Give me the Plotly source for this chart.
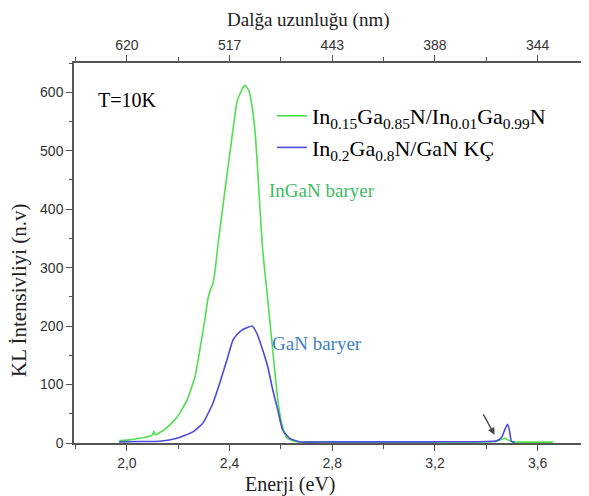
import plotly.graph_objects as go

# ---- data ----
energy_ingan = [1.97, 2.00, 2.05, 2.09, 2.10, 2.105, 2.11, 2.15, 2.195, 2.234, 2.265, 2.284,
                2.304, 2.315, 2.325, 2.335, 2.345, 2.355, 2.382, 2.413, 2.43, 2.452, 2.459,
                2.475, 2.49, 2.502, 2.514, 2.529, 2.549, 2.568, 2.588, 2.603, 2.623, 2.66,
                2.70, 2.80, 3.00, 3.20, 3.40, 3.44, 3.46, 3.471, 3.485, 3.50, 3.52, 3.60, 3.66]
intensity_ingan = [4, 5, 8, 12, 14, 20, 14, 24, 44, 73, 113, 159,
                   212, 245, 262, 272, 300, 340, 432, 535, 586, 608, 612,
                   603, 569, 518, 432, 330, 244, 159, 73, 34, 8.5, 2,
                   2, 2, 2, 2, 2, 3, 6, 8, 5, 2, 1.5, 1.5, 1.5]

energy_gan = [1.97, 2.05, 2.129, 2.195, 2.257, 2.296, 2.335, 2.362, 2.393, 2.413, 2.43,
              2.448, 2.467, 2.487, 2.506, 2.529, 2.549, 2.568, 2.588, 2.607, 2.634, 2.673,
              2.80, 3.00, 3.20, 3.40, 3.44, 3.46, 3.475, 3.483, 3.49, 3.498, 3.51]
intensity_gan = [2, 2.5, 3, 8, 19, 34, 68, 103, 147, 176, 186,
                 193, 197, 200, 188, 159, 130, 91, 56, 22, 8, 2,
                 2, 2, 2, 2.5, 4, 10, 26, 32, 22, 3, 1]

energy_ticks = [2.0, 2.4, 2.8, 3.2, 3.6]
energy_ticklabels = ["2,0", "2,4", "2,8", "3,2", "3,6"]
wavelength_ticklabels = ["620", "517", "443", "388", "344"]
intensity_ticks = [0, 100, 200, 300, 400, 500, 600]

name_ingan = "In<sub>0.15</sub>Ga<sub>0.85</sub>N/In<sub>0.01</sub>Ga<sub>0.99</sub>N"
name_gan = "In<sub>0.2</sub>Ga<sub>0.8</sub>N/GaN KÇ"

GREEN = "#4ee04e"
BLUE = "#4b4bdc"
AXC = "#555555"
SERIF = "Liberation Serif, Times New Roman, serif"
SANS = "Liberation Sans, Arial, sans-serif"

# page body has an 8px margin; figure is offset by it
W, H = 581, 488
L, T, B = 66, 55, 53
PW, PH = W - L, H - T - B  # 515 x 380
OFF = 8


def px(xp):  # page x pixel -> paper x
    return (xp - OFF - L) / PW


def py(yp):  # page y pixel -> paper y
    return (H - B - (yp - OFF)) / PH


fig = go.Figure()
fig.add_trace(go.Scatter(x=energy_ingan, y=intensity_ingan, mode="lines", name=name_ingan,
                         line=dict(color=GREEN, width=1.6, shape="spline", smoothing=0.5)))
fig.add_trace(go.Scatter(x=energy_gan, y=intensity_gan, mode="lines", name=name_gan,
                         line=dict(color=BLUE, width=1.6, shape="spline", smoothing=0.5)))
# invisible copy so the top (wavelength) axis is drawn
fig.add_trace(go.Scatter(x=energy_ingan, y=intensity_ingan, xaxis="x2", mode="lines",
                         line=dict(width=0, color="rgba(0,0,0,0)"), opacity=0,
                         showlegend=False, hoverinfo="skip"))

xr = [1.794, 3.80]
axis_common = dict(showgrid=False, zeroline=False, showline=True, linecolor=AXC, linewidth=1.5,
                   ticks="outside", ticklen=6, tickcolor=AXC, tickwidth=1.2,
                   tickfont=dict(family=SANS, size=14, color="#333333"))

fig.update_layout(
    width=W, height=H,
    margin=dict(l=L, r=0, t=T, b=B),
    paper_bgcolor="white", plot_bgcolor="white",
    showlegend=True,
    legend=dict(x=px(272), y=py(95), xanchor="left", yanchor="top",
                font=dict(family=SERIF, size=22, color="black"),
                bgcolor="rgba(0,0,0,0)", tracegroupgap=0),
    xaxis=dict(range=xr, tickmode="array", tickvals=energy_ticks, ticktext=energy_ticklabels,
               minor=dict(dtick=0.2, tick0=0, ticks="outside", ticklen=4, tickcolor=AXC),
               **axis_common),
    xaxis2=dict(range=xr, overlaying="x", side="top", matches="x", tickmode="array",
                tickvals=energy_ticks, ticktext=wavelength_ticklabels,
                minor=dict(dtick=0.2, tick0=0, ticks="outside", ticklen=4, tickcolor=AXC),
                **axis_common),
    yaxis=dict(range=[0, 650], tickmode="array", tickvals=intensity_ticks,
               minor=dict(dtick=50, tick0=0, ticks="outside", ticklen=3, tickcolor=AXC),
               **axis_common),
    annotations=[
        dict(text="Enerji (eV)", xref="paper", yref="paper", x=px(290), y=py(484),
             xanchor="center", yanchor="middle", showarrow=False,
             font=dict(family=SERIF, size=20, color="#222")),
        dict(text="Dalğa uzunluğu (nm)", xref="paper", yref="paper", x=px(308), y=py(20),
             xanchor="center", yanchor="middle", showarrow=False,
             font=dict(family=SERIF, size=19, color="#222")),
        dict(text="KL İntensivliyi (n.v)", xref="paper", yref="paper", x=px(19), y=py(290),
             xanchor="center", yanchor="middle", showarrow=False,
             textangle=-90, font=dict(family=SERIF, size=21, color="#222")),
        dict(text="T=10K", xref="paper", yref="paper", x=px(127), y=py(100),
             xanchor="center", yanchor="middle", showarrow=False,
             font=dict(family=SERIF, size=20, color="black")),
        dict(text="InGaN baryer", xref="paper", yref="paper", x=px(322), y=py(190),
             xanchor="center", yanchor="middle", showarrow=False,
             font=dict(family=SERIF, size=19, color="#3dbb63")),
        dict(text="GaN baryer", xref="paper", yref="paper", x=px(317), y=py(343),
             xanchor="center", yanchor="middle", showarrow=False,
             font=dict(family=SERIF, size=19, color="#3d7fc0")),
        dict(text="", x=3.432, y=14, xref="x", yref="y", showarrow=True, arrowhead=2,
             arrowsize=1, arrowwidth=1.4, arrowcolor="#444", ax=-12, ay=-22),
    ],
)

fig.write_html("out.html")
